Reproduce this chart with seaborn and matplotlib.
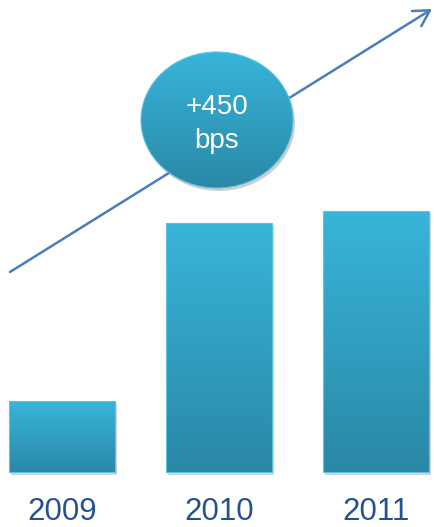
import numpy as np
import matplotlib
matplotlib.use("Agg")
import matplotlib.pyplot as plt
import seaborn as sns
import pandas as pd
from matplotlib.patches import Ellipse, FancyArrowPatch, Rectangle

# Data (relative bar heights)
years = ["2009", "2010", "2011"]
values = [71, 249, 261]
bubble_text = "+450\nbps"

sns.set_theme(style="white")
plt.rcParams['font.family'] = ['Liberation Sans', 'DejaVu Sans']

W, H = 435, 527
fig = plt.figure(figsize=(W / 100, H / 100), dpi=100)
ax = fig.add_axes([0, 0, 1, 1])

df = pd.DataFrame({"year": years, "value": values})
sns.barplot(data=df, x="year", y="value", ax=ax, width=0.675,
            color="#34B0D6", saturation=1, edgecolor="none")

# pixel mapping helpers: x center of bar 0 at px 62, 157 px per category
def px2x(px):
    return (px - 62) / 157.0

def py2y(py):  # py measured from top
    return 472 - py

xlim = (px2x(0), px2x(W))
ylim = (py2y(H), py2y(0))

top_col = np.array([0x38, 0xB5, 0xDA]) / 255
bot_col = np.array([0x2A, 0x88, 0xA6]) / 255
grad = np.linspace(0, 1, 256)[:, None]
grad_img = top_col[None, None, :] * (1 - grad[:, :, None]) + bot_col[None, None, :] * grad[:, :, None]

bars = list(ax.patches)
for b in bars:
    x0, y0 = b.get_x(), b.get_y()
    w, h = b.get_width(), b.get_height()
    # shadow
    sh = Rectangle((x0 + 2 / 157, y0 - 3), w, h, facecolor="#888888", alpha=0.35,
                   edgecolor="none", zorder=1)
    ax.add_patch(sh)
    b.set_facecolor("none")
    b.set_edgecolor("#5CC3E2")
    b.set_linewidth(0.8)
    b.set_zorder(3)
    im = ax.imshow(grad_img, extent=(x0, x0 + w, y0, y0 + h), origin="upper",
                   aspect="auto", zorder=2, interpolation="bilinear")
    im.set_clip_path(b)

# Arrow
arrow = FancyArrowPatch((px2x(10), py2y(272)), (px2x(432), py2y(9)),
                        arrowstyle="->,head_length=7,head_width=4",
                        color="#4A7DBF", lw=1.8, zorder=4, mutation_scale=1.6,
                        shrinkA=0, shrinkB=0)
ax.add_patch(arrow)

# Bubble
cx, cy = 217, 120
ew, eh = 152, 136
shadow_e = Ellipse((px2x(cx + 2), py2y(cy + 3)), ew / 157, eh, facecolor="#777777",
                   alpha=0.35, edgecolor="none", zorder=5)
ax.add_patch(shadow_e)
ell = Ellipse((px2x(cx), py2y(cy)), ew / 157, eh, facecolor="none",
              edgecolor="#5CC3E2", lw=0.8, zorder=7)
ax.add_patch(ell)
im = ax.imshow(grad_img, extent=(px2x(cx - ew / 2), px2x(cx + ew / 2),
                                 py2y(cy + eh / 2), py2y(cy - eh / 2)),
               origin="upper", aspect="auto", zorder=6, interpolation="bilinear")
im.set_clip_path(ell)
ax.text(px2x(cx), py2y(124), bubble_text, color="white", fontsize=20,
        ha="center", va="center", linespacing=1.45, zorder=8)

# Year labels
for i, yr in enumerate(years):
    ax.text(i, py2y(512), yr, color="#245290", fontsize=22.5,
            ha="center", va="center", zorder=8)

ax.set_xlim(*xlim)
ax.set_ylim(*ylim)
ax.set_axis_off()

fig.savefig("out.png", dpi=100)
